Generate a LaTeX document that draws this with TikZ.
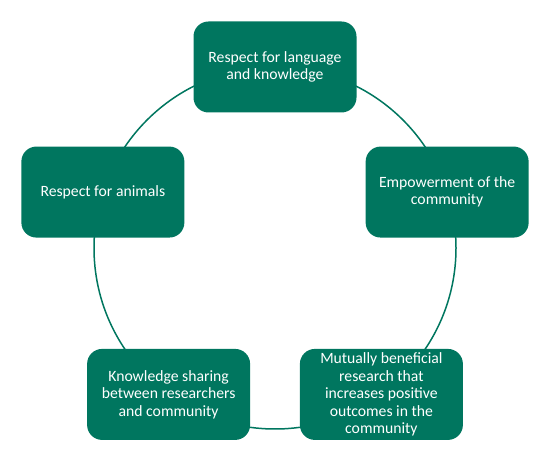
\documentclass[tikz,border=0pt]{standalone}
\usepackage{fontspec}
\setmainfont{Carlito}
\usetikzlibrary{calc}
\definecolor{teal1}{HTML}{00765F}
\begin{document}
\begin{tikzpicture}[x=1pt,y=1pt,
  box/.style={draw=none, fill=teal1, rounded corners=15pt, minimum width=163pt, minimum height=91pt,
    inner sep=0pt, align=center, text=white, font=\fontsize{15.7}{17.5}\selectfont}]
\useasboundingbox (0,0) rectangle (548,465);
\coordinate (c) at (275,217);
\draw[teal1, line width=1.5pt] (c) circle[radius=181];
\node[box] (top) at ($(c)+(90:181)$) {Respect for language\\and knowledge};
\node[box] (right) at ($(c)+(18:181)$) {Empowerment of the\\community};
\node[box] (br) at ($(c)+(-54:181)$) {Mutually beneficial\\research that\\increases positive\\outcomes in the\\community};
\node[box] (bl) at ($(c)+(-126:181)$) {Knowledge sharing\\between researchers\\and community};
\node[box] (left) at ($(c)+(162:181)$) {Respect for animals};
\end{tikzpicture}
\end{document}
